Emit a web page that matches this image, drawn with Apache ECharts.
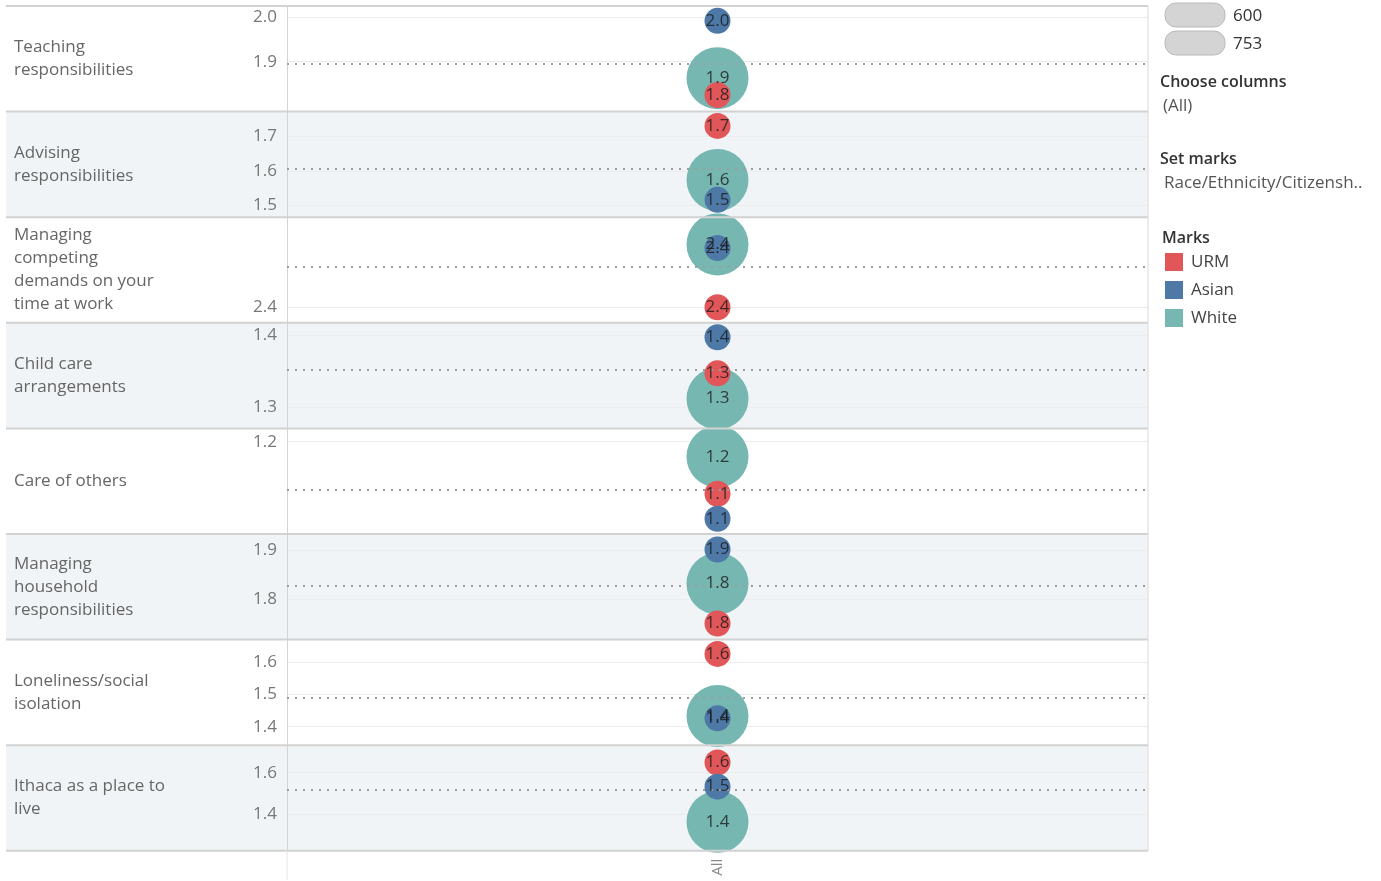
<!DOCTYPE html>
<html>
<head>
	<meta charset="UTF-8">
	<title>Stress factors by group</title>
	<script src="https://cdn.jsdelivr.net/npm/echarts@6/dist/echarts.min.js"></script>
	<style>
		html, body { margin: 0; padding: 0; background: #fff; }
		#main { width: 1381px; height: 881px; }
	</style>
</head>
<body>
<div id="main"></div>
<script type="text/javascript">
	// row headers
	var categories = [
		'Teaching\nresponsibilities',
		'Advising\nresponsibilities',
		'Managing\ncompeting\ndemands on your\ntime at work',
		'Child care\narrangements',
		'Care of others',
		'Managing\nhousehold\nresponsibilities',
		'Loneliness/social\nisolation',
		'Ithaca as a place to\nlive'
	];
	// mean scores per group, one value per row
	var urm   = [1.825, 1.731, 2.400, 1.347, 1.148, 1.751, 1.626, 1.649];
	var asian = [1.992, 1.515, 2.432, 1.397, 1.123, 1.901, 1.426, 1.533];
	var white = [1.863, 1.573, 2.434, 1.312, 1.185, 1.832, 1.433, 1.364];
	// dotted reference line (average) per row
	var refLine = [1.896, 1.605, 2.422, 1.352, 1.152, 1.828, 1.491, 1.517];
	// each row has its own axis range + tick labels
	var axisMin = [1.7876, 1.4644, 2.3916, 1.2708, 1.1077, 1.7183, 1.3425, 1.2245];
	var axisMax = [2.0255, 1.7727, 2.4487, 1.4169, 1.2133, 1.9325, 1.6705, 1.7322];
	var axisTicks = [[1.9, 2.0], [1.5, 1.6, 1.7], [2.4], [1.3, 1.4], [1.2], [1.8, 1.9], [1.4, 1.5, 1.6], [1.4, 1.6]];
	var groups = ['URM', 'Asian', 'White'];
	var sizeLegend = ['600', '753'];
	var colCategory = ['All'];

	var colors = {URM: '#e15759', Asian: '#4e79a7', White: '#76b7b2'};
	var sizes = {URM: 26, Asian: 26, White: 62};
	var font = '"Open Sans", sans-serif';
	var fs = 17;

	var chart = echarts.init(document.getElementById('main'));

	var plotLeft = 287, plotRight = 1148, headLeft = 6;
	var top0 = 6, rowH = 105.6;

	var grids = [], xAxes = [], yAxes = [], series = [], graphics = [];

	for (var i = 0; i < categories.length; i++) {
		var rowTop = top0 + i * rowH;
		grids.push({left: plotLeft, width: plotRight - plotLeft, top: rowTop, height: rowH});

		xAxes.push({
			type: 'category', gridIndex: i, data: colCategory,
			axisLine: {show: false}, axisTick: {show: false}, splitLine: {show: false},
			axisLabel: {show: i === categories.length - 1, rotate: 90, margin: 8,
				color: '#888', fontSize: 15, fontFamily: font}
		});

		// value axis
		yAxes.push({
			type: 'value', gridIndex: i, position: 'left', offset: 0,
			min: axisMin[i], max: axisMax[i],
			axisLine: {show: true, lineStyle: {color: '#d4d4d4', width: 1}},
			axisTick: {show: false, customValues: axisTicks[i]},
			axisLabel: {customValues: axisTicks[i], margin: 10, color: '#777', fontSize: fs,
				fontFamily: font, formatter: function (v) { return v.toFixed(1); }},
			splitLine: {show: true, lineStyle: {color: '#ececec', width: 1}}
		});
		// row header
		yAxes.push({
			type: 'category', gridIndex: i, position: 'left', offset: 0,
			data: [categories[i]],
			axisLine: {show: false}, axisTick: {show: false}, splitLine: {show: false},
			axisLabel: {align: 'left', margin: plotLeft - 14, color: '#666', fontSize: fs,
				lineHeight: 23, fontFamily: font, interval: 0}
		});

		var vals = {URM: urm[i], Asian: asian[i], White: white[i]};
		// white first so the small circles sit on top
		['White', 'URM', 'Asian'].forEach(function (g) {
			series.push({
				name: g, type: 'scatter', xAxisIndex: i, yAxisIndex: i * 2,
				symbolSize: sizes[g], itemStyle: {color: colors[g], opacity: 1},
				data: [['All', vals[g]]], z: 2, silent: true
			});
		});
		// labels on top of all marks + reference line
		series.push({
			name: 'labels', type: 'scatter', xAxisIndex: i, yAxisIndex: i * 2,
			symbolSize: 2, itemStyle: {color: 'rgba(0,0,0,0)'}, z: 10, silent: true,
			label: {show: true, position: 'inside', color: '#1a1a1a', fontSize: fs, fontFamily: font,
				formatter: function (p) { return p.value[1].toFixed(1); }},
			data: [['All', vals.White], ['All', vals.URM], ['All', vals.Asian]],
			markLine: {
				silent: true, symbol: ['none', 'none'], label: {show: false}, precision: 4,
				lineStyle: {color: '#9c9c9c', type: [2, 6], width: 2},
				data: [{yAxis: refLine[i]}]
			}
		});

		// band background and separators
		if (i % 2 === 1) {
			graphics.push({type: 'rect', z: -10, silent: true,
				shape: {x: headLeft, y: rowTop, width: plotRight - headLeft, height: rowH},
				style: {fill: '#f0f4f6'}});
		}
		graphics.push({type: 'line', z: 50, silent: true,
			shape: {x1: headLeft, y1: rowTop + rowH, x2: plotRight, y2: rowTop + rowH},
			style: {stroke: '#d2d2d2', lineWidth: 2}});
	}

	graphics.push({type: 'line', z: 50, silent: true,
		shape: {x1: headLeft, y1: top0, x2: plotRight, y2: top0},
		style: {stroke: '#d2d2d2', lineWidth: 2}});
	graphics.push({type: 'line', z: 50, silent: true,
		shape: {x1: plotRight, y1: top0, x2: plotRight, y2: top0 + rowH * 8},
		style: {stroke: '#dadada', lineWidth: 1}});
	graphics.push({type: 'line', z: 50, silent: true,
		shape: {x1: plotLeft, y1: top0 + rowH * 8, x2: plotLeft, y2: 880},
		style: {stroke: '#e6e6e6', lineWidth: 1}});

	// size legend (clipped circles) and side panel text
	sizeLegend.forEach(function (s, k) {
		graphics.push({type: 'rect', silent: true,
			shape: {x: 1165, y: 3 + k * 28, width: 60, height: 24, r: 11},
			style: {fill: '#d4d4d4', stroke: '#b9b9b9', lineWidth: 1}});
		graphics.push({type: 'text', silent: true, x: 1233, y: 16 + k * 28,
			style: {text: s, fill: '#333', font: fs + 'px ' + font, textVerticalAlign: 'middle'}});
	});
	var panelText = [
		['Choose columns', 1160, 82, '600 16px', '#333'],
		['(All)', 1163, 106, fs + 'px', '#555'],
		['Set marks', 1160, 159, '600 16px', '#333'],
		['Race/Ethnicity/Citizensh..', 1164, 183, fs + 'px', '#555'],
		['Marks', 1162, 238, '600 16px', '#333']
	];
	panelText.forEach(function (t) {
		graphics.push({type: 'text', silent: true, x: t[1], y: t[2],
			style: {text: t[0], fill: t[4], font: t[3] + ' ' + font, textVerticalAlign: 'middle'}});
	});

	var option = {
		animation: false,
		backgroundColor: '#fff',
		grid: grids,
		xAxis: xAxes,
		yAxis: yAxes,
		legend: {
			data: groups, orient: 'vertical', left: 1165, top: 253,
			icon: 'rect', itemWidth: 18, itemHeight: 18, itemGap: 10, padding: 0,
			selectedMode: false,
			textStyle: {color: '#444', fontSize: fs, fontFamily: font, padding: [0, 0, 0, 3]}
		},
		graphic: graphics,
		series: series
	};
	chart.setOption(option);
</script>
</body>
</html>
